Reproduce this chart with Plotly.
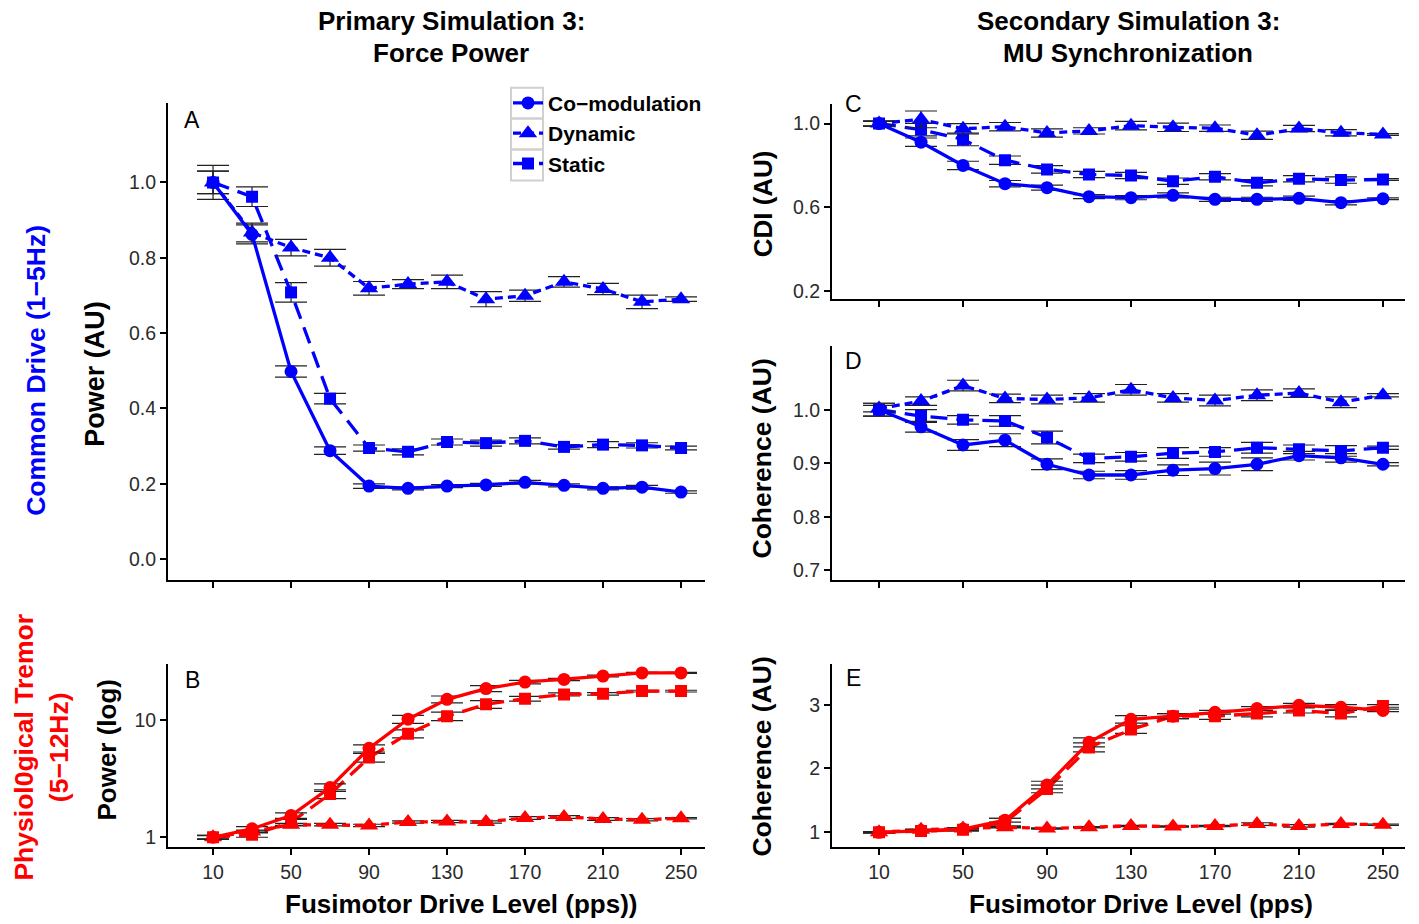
import plotly.graph_objects as go

# Fusimotor drive levels (pps)
drive = [10, 30, 50, 70, 90, 110, 130, 150, 170, 190, 210, 230, 250]
tick_vals = [10, 50, 90, 130, 170, 210, 250]

series_names = ["Co\u2212modulation", "Dynamic", "Static"]

# Panel A: common drive (1-5 Hz) force power, normalised
a_comod = [1.0, 0.862, 0.498, 0.288, 0.194, 0.188, 0.194, 0.197, 0.204, 0.196, 0.188, 0.191, 0.178]
a_dyn = [1.0, 0.867, 0.827, 0.80, 0.719, 0.730, 0.736, 0.690, 0.699, 0.736, 0.717, 0.683, 0.690]
a_stat = [1.0, 0.962, 0.708, 0.426, 0.295, 0.285, 0.311, 0.308, 0.314, 0.298, 0.304, 0.302, 0.295]
a_comod_err = [0.03, 0.025, 0.015, 0.01, 0.006, 0.004, 0.004, 0.004, 0.005, 0.004, 0.004, 0.005, 0.003]
a_dyn_err = [0.045, 0.025, 0.022, 0.022, 0.018, 0.012, 0.018, 0.02, 0.015, 0.014, 0.015, 0.018, 0.006]
a_stat_err = [0.03, 0.026, 0.026, 0.014, 0.008, 0.008, 0.008, 0.008, 0.008, 0.006, 0.008, 0.007, 0.005]

# Panel B: physiological tremor (5-12 Hz) force power, log scale
b_comod = [1.0, 1.18, 1.53, 2.65, 5.71, 10.1, 14.9, 18.4, 20.9, 22.0, 23.5, 25.0, 25.0]
b_dyn = [1.0, 1.12, 1.28, 1.28, 1.26, 1.35, 1.36, 1.35, 1.46, 1.49, 1.43, 1.41, 1.45]
b_stat = [1.0, 1.05, 1.34, 2.33, 4.76, 7.6, 10.7, 13.5, 15.1, 16.4, 16.6, 17.5, 17.5]
b_comod_err = [0.04, 0.05, 0.08, 0.2, 0.4, 0.8, 1.0, 1.1, 0.7, 0.5, 0.4, 0.3, 0.3]
b_dyn_err = [0.03, 0.03, 0.03, 0.03, 0.03, 0.03, 0.03, 0.03, 0.04, 0.04, 0.04, 0.03, 0.02]
b_stat_err = [0.04, 0.05, 0.08, 0.2, 0.4, 0.6, 0.9, 1.0, 0.7, 0.5, 0.4, 0.3, 0.3]

# Panel C: common drive index
c_comod = [1.0, 0.911, 0.80, 0.713, 0.694, 0.651, 0.646, 0.657, 0.638, 0.638, 0.643, 0.622, 0.641]
c_dyn = [1.0, 1.02, 0.975, 0.985, 0.955, 0.965, 0.99, 0.982, 0.978, 0.944, 0.976, 0.956, 0.948]
c_stat = [1.0, 0.971, 0.924, 0.825, 0.781, 0.757, 0.752, 0.725, 0.746, 0.717, 0.736, 0.73, 0.733]
c_comod_err = [0.012, 0.02, 0.02, 0.015, 0.012, 0.01, 0.01, 0.012, 0.01, 0.01, 0.01, 0.01, 0.004]
c_dyn_err = [0.012, 0.04, 0.025, 0.02, 0.02, 0.015, 0.02, 0.02, 0.015, 0.02, 0.015, 0.015, 0.004]
c_stat_err = [0.012, 0.03, 0.03, 0.02, 0.018, 0.015, 0.015, 0.015, 0.015, 0.015, 0.015, 0.015, 0.004]

# Panel D: common drive coherence
d_comod = [1.0, 0.968, 0.934, 0.943, 0.898, 0.878, 0.878, 0.887, 0.89, 0.898, 0.914, 0.91, 0.898]
d_dyn = [1.002, 1.016, 1.045, 1.021, 1.019, 1.022, 1.037, 1.022, 1.017, 1.027, 1.031, 1.014, 1.027]
d_stat = [1.0, 0.988, 0.981, 0.979, 0.948, 0.909, 0.912, 0.919, 0.921, 0.929, 0.926, 0.923, 0.929]
d_comod_err = [0.012, 0.01, 0.01, 0.012, 0.01, 0.007, 0.008, 0.01, 0.012, 0.012, 0.008, 0.008, 0.003]
d_dyn_err = [0.006, 0.008, 0.01, 0.008, 0.008, 0.008, 0.01, 0.008, 0.01, 0.01, 0.008, 0.01, 0.003]
d_stat_err = [0.012, 0.012, 0.008, 0.01, 0.012, 0.008, 0.008, 0.01, 0.008, 0.01, 0.008, 0.01, 0.003]

# Panel E: physiological tremor coherence
e_comod = [1.0, 1.03, 1.05, 1.19, 1.74, 2.41, 2.77, 2.82, 2.88, 2.94, 2.99, 2.96, 2.91]
e_dyn = [1.0, 1.04, 1.06, 1.08, 1.06, 1.08, 1.1, 1.09, 1.1, 1.13, 1.1, 1.13, 1.12]
e_stat = [1.0, 1.02, 1.04, 1.16, 1.68, 2.33, 2.61, 2.82, 2.82, 2.86, 2.91, 2.86, 2.98]
e_comod_err = [0.01, 0.01, 0.02, 0.03, 0.06, 0.07, 0.06, 0.04, 0.03, 0.03, 0.03, 0.04, 0.02]
e_dyn_err = [0.01, 0.01, 0.01, 0.01, 0.01, 0.01, 0.01, 0.01, 0.01, 0.02, 0.02, 0.01, 0.01]
e_stat_err = [0.01, 0.01, 0.02, 0.06, 0.06, 0.07, 0.06, 0.04, 0.05, 0.05, 0.04, 0.05, 0.02]

BLUE = "#0000ff"
RED = "#ff0000"
FONT = "Liberation Sans, Arial, Helvetica, sans-serif"
NARROW = "Liberation Sans Narrow, Arial Narrow, Liberation Sans, Arial, sans-serif"

styles = [
    dict(symbol="circle", size=13, dash="solid"),
    dict(symbol="triangle-up", size=16, dash="8px,5px"),
    dict(symbol="square", size=12, dash="17px,9px"),
]

panels = [
    ("x", "y", BLUE, [a_comod, a_dyn, a_stat], [a_comod_err, a_dyn_err, a_stat_err], True),
    ("x2", "y2", RED, [b_comod, b_dyn, b_stat], [b_comod_err, b_dyn_err, b_stat_err], False),
    ("x3", "y3", BLUE, [c_comod, c_dyn, c_stat], [c_comod_err, c_dyn_err, c_stat_err], False),
    ("x4", "y4", BLUE, [d_comod, d_dyn, d_stat], [d_comod_err, d_dyn_err, d_stat_err], False),
    ("x5", "y5", RED, [e_comod, e_dyn, e_stat], [e_comod_err, e_dyn_err, e_stat_err], False),
]

fig = go.Figure()
for xa, ya, color, values, errors, legend in panels:
    # draw static, dynamic, then co-modulation on top
    for idx in (2, 1, 0):
        st = styles[idx]
        fig.add_trace(go.Scatter(
            x=drive, y=values[idx], xaxis=xa, yaxis=ya,
            mode="lines+markers", name=series_names[idx],
            legendrank=idx + 1,
            showlegend=legend,
            line=dict(color=color, width=3.3, dash=st["dash"]),
            marker=dict(symbol=st["symbol"], size=st["size"], color=color),
            error_y=dict(type="data", array=errors[idx], color="#222222",
                         thickness=1.2, width=16),
        ))

W, H = 1419, 924


def px_x(v):
    return v / W


def px_y(v):
    return 1 - v / H


left_dom = [px_x(168), px_x(705)]
right_dom = [px_x(832), px_x(1405)]

axis_common = dict(
    showline=True, linecolor="black", linewidth=2, mirror=False,
    ticks="outside", ticklen=6, tickwidth=2, tickcolor="black",
    showgrid=False, zeroline=False,
    tickfont=dict(family=FONT, size=19.5, color="#2b2b2b"),
)

x_common = dict(axis_common, tickmode="array", tickvals=tick_vals)

layout = dict(
    width=W, height=H,
    margin=dict(l=0, r=0, t=0, b=0),
    paper_bgcolor="white", plot_bgcolor="white",
    showlegend=True,
    xaxis=dict(x_common, domain=left_dom, range=[-13.1, 262.3], anchor="y", showticklabels=False),
    xaxis2=dict(x_common, domain=left_dom, range=[-13.1, 262.3], anchor="y2"),
    xaxis3=dict(x_common, domain=right_dom, range=[-12.4, 260.5], anchor="y3", showticklabels=False),
    xaxis4=dict(x_common, domain=right_dom, range=[-12.4, 260.5], anchor="y4", showticklabels=False),
    xaxis5=dict(x_common, domain=right_dom, range=[-12.4, 260.5], anchor="y5"),
    yaxis=dict(axis_common, domain=[px_y(582), px_y(103)], range=[-0.0556, 1.2116],
               anchor="x", tickvals=[0, 0.2, 0.4, 0.6, 0.8, 1.0], tickformat=".1f"),
    yaxis2=dict(axis_common, domain=[px_y(850), px_y(666)], type="log", range=[-0.085, 1.475],
                anchor="x2", tickvals=[1, 10], ticktext=["1", "10"]),
    yaxis3=dict(axis_common, domain=[px_y(300), px_y(104)], range=[0.162, 1.095],
                anchor="x3", tickvals=[0.2, 0.6, 1.0], tickformat=".1f"),
    yaxis4=dict(axis_common, domain=[px_y(582), px_y(347)], range=[0.6816, 1.1192],
                anchor="x4", tickvals=[0.7, 0.8, 0.9, 1.0], tickformat=".1f"),
    yaxis5=dict(axis_common, domain=[px_y(850), px_y(666)], range=[0.766, 3.64],
                anchor="x5", tickvals=[1, 2, 3]),
    legend=dict(
        x=px_x(508), y=px_y(83), xanchor="left", yanchor="top",
        bgcolor="rgba(255,255,255,0)", borderwidth=0,
        font=dict(family=FONT, size=21, color="black", weight="bold"),
        itemwidth=30, tracegroupgap=0,
    ),
)
fig.update_layout(**layout)

annotations = []


def add_text(text, x, y, size, color="black", angle=0, family=FONT, bold=True):
    annotations.append(dict(
        text=text, x=px_x(x), y=px_y(y), xref="paper", yref="paper",
        showarrow=False, textangle=angle, xanchor="center", yanchor="middle",
        font=dict(family=family, size=size, color=color, weight="bold" if bold else "normal"),
    ))


# column titles (two lines each)
add_text("Primary Simulation 3:", 451, 21, 26)
add_text("Force Power", 451, 53, 26)
add_text("Secondary Simulation 3:", 1128, 21, 26)
add_text("MU Synchronization", 1128, 53, 26)

# y-axis titles
add_text("Power (AU)", 95, 375, 27, angle=-90, family=NARROW)
add_text("Power (log)", 107, 752, 26, angle=-90, family=NARROW)
add_text("CDI (AU)", 763, 204, 26, angle=-90)
add_text("Coherence (AU)", 762, 460, 26.5, angle=-90)
add_text("Coherence (AU)", 762, 759, 26.5, angle=-90)

# x-axis titles
add_text("Fusimotor Drive Level (pps))", 461, 907, 26)
add_text("Fusimotor Drive Level (pps)", 1141, 907, 26)

# row labels
add_text("Common Drive (1\u22125Hz)", 36, 372, 26.5, color=BLUE, angle=-90, family=NARROW)
add_text("Physiol0gical Tremor<br>(5\u221212Hz)", 41, 750, 26.5, color=RED, angle=-90, family=NARROW)

# panel letters
for letter, x, y in [("A", 192, 120), ("B", 192, 682), ("C", 853, 104), ("D", 853, 362), ("E", 853, 680)]:
    add_text(letter, x, y, 23, bold=False)

fig.update_layout(annotations=annotations)

# light grey frames around the legend keys
shapes = []
for top in (88, 119, 150):
    shapes.append(dict(type="rect", xref="paper", yref="paper",
                       x0=px_x(511), x1=px_x(543), y0=px_y(top + 31), y1=px_y(top),
                       line=dict(color="#d0d0d0", width=2), fillcolor="rgba(0,0,0,0)", layer="below"))
fig.update_layout(shapes=shapes)

fig.write_html("out.html")
